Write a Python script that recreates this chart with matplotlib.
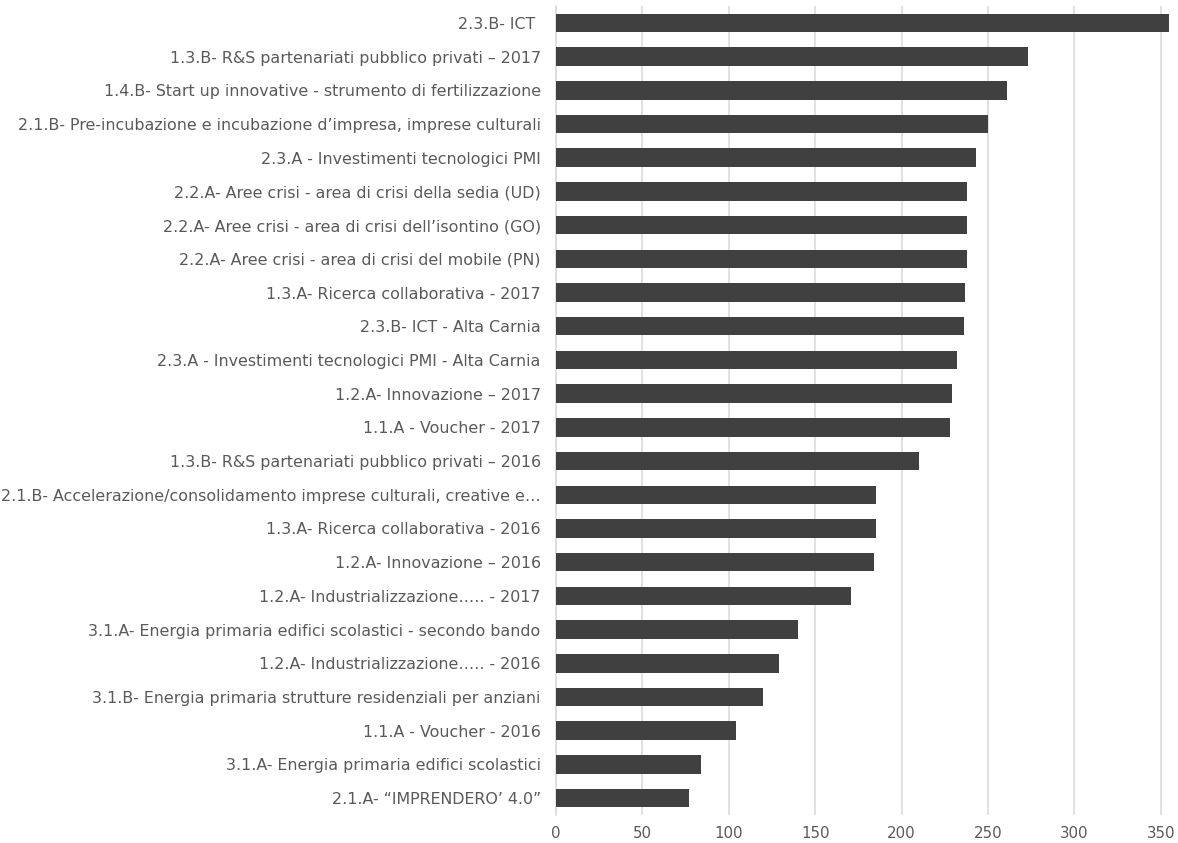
import matplotlib
matplotlib.use("Agg")
import matplotlib.pyplot as plt

plt.rcParams["font.family"] = ["DejaVu Sans"]

# Bandi / linee di intervento (dall'alto verso il basso)
categories = [
    "2.3.B- ICT ",
    "1.3.B- R&S partenariati pubblico privati – 2017",
    "1.4.B- Start up innovative - strumento di fertilizzazione",
    "2.1.B- Pre-incubazione e incubazione d’impresa, imprese culturali",
    "2.3.A - Investimenti tecnologici PMI",
    "2.2.A- Aree crisi - area di crisi della sedia (UD)",
    "2.2.A- Aree crisi - area di crisi dell’isontino (GO)",
    "2.2.A- Aree crisi - area di crisi del mobile (PN)",
    "1.3.A- Ricerca collaborativa - 2017",
    "2.3.B- ICT - Alta Carnia",
    "2.3.A - Investimenti tecnologici PMI - Alta Carnia",
    "1.2.A- Innovazione – 2017",
    "1.1.A - Voucher - 2017",
    "1.3.B- R&S partenariati pubblico privati – 2016",
    "2.1.B- Accelerazione/consolidamento imprese culturali, creative e…",
    "1.3.A- Ricerca collaborativa - 2016",
    "1.2.A- Innovazione – 2016",
    "1.2.A- Industrializzazione….. - 2017",
    "3.1.A- Energia primaria edifici scolastici - secondo bando",
    "1.2.A- Industrializzazione….. - 2016",
    "3.1.B- Energia primaria strutture residenziali per anziani",
    "1.1.A - Voucher - 2016",
    "3.1.A- Energia primaria edifici scolastici",
    "2.1.A- “IMPRENDERO’ 4.0”",
]

values = [355, 273, 261, 250, 243, 238, 238, 238, 237, 236, 232, 229, 228,
          210, 185, 185, 184, 171, 140, 129, 120, 104, 84, 77]

x_ticks = [0, 50, 100, 150, 200, 250, 300, 350]

BAR = "#404040"
GRID = "#d9d9d9"
TEXT = "#595959"

fig = plt.figure(figsize=(11.78, 8.43), dpi=100)
ax = fig.add_axes([556 / 1178, 28 / 843, 1 - 556 / 1178, (815 - 6) / 843])

positions = list(range(len(categories)))
ax.barh(positions, values, height=0.55, color=BAR, zorder=3)

ax.set_ylim(len(categories) - 0.5, -0.5)
ax.set_xlim(0, 360)
ax.set_yticks(positions)
ax.set_yticklabels(categories)
ax.set_xticks(x_ticks)
ax.set_xticklabels([str(t) for t in x_ticks])

ax.tick_params(axis="both", length=0, labelcolor=TEXT)
ax.tick_params(axis="y", labelsize=11.45, pad=11)
ax.tick_params(axis="x", labelsize=10.8, pad=8)

ax.grid(axis="x", color=GRID, linewidth=1.1, zorder=0)
ax.grid(axis="y", visible=False)
for side in ("top", "right", "bottom"):
    ax.spines[side].set_visible(False)
ax.spines["left"].set_color(GRID)
ax.spines["left"].set_linewidth(1.1)

fig.savefig("out.png", dpi=100)
